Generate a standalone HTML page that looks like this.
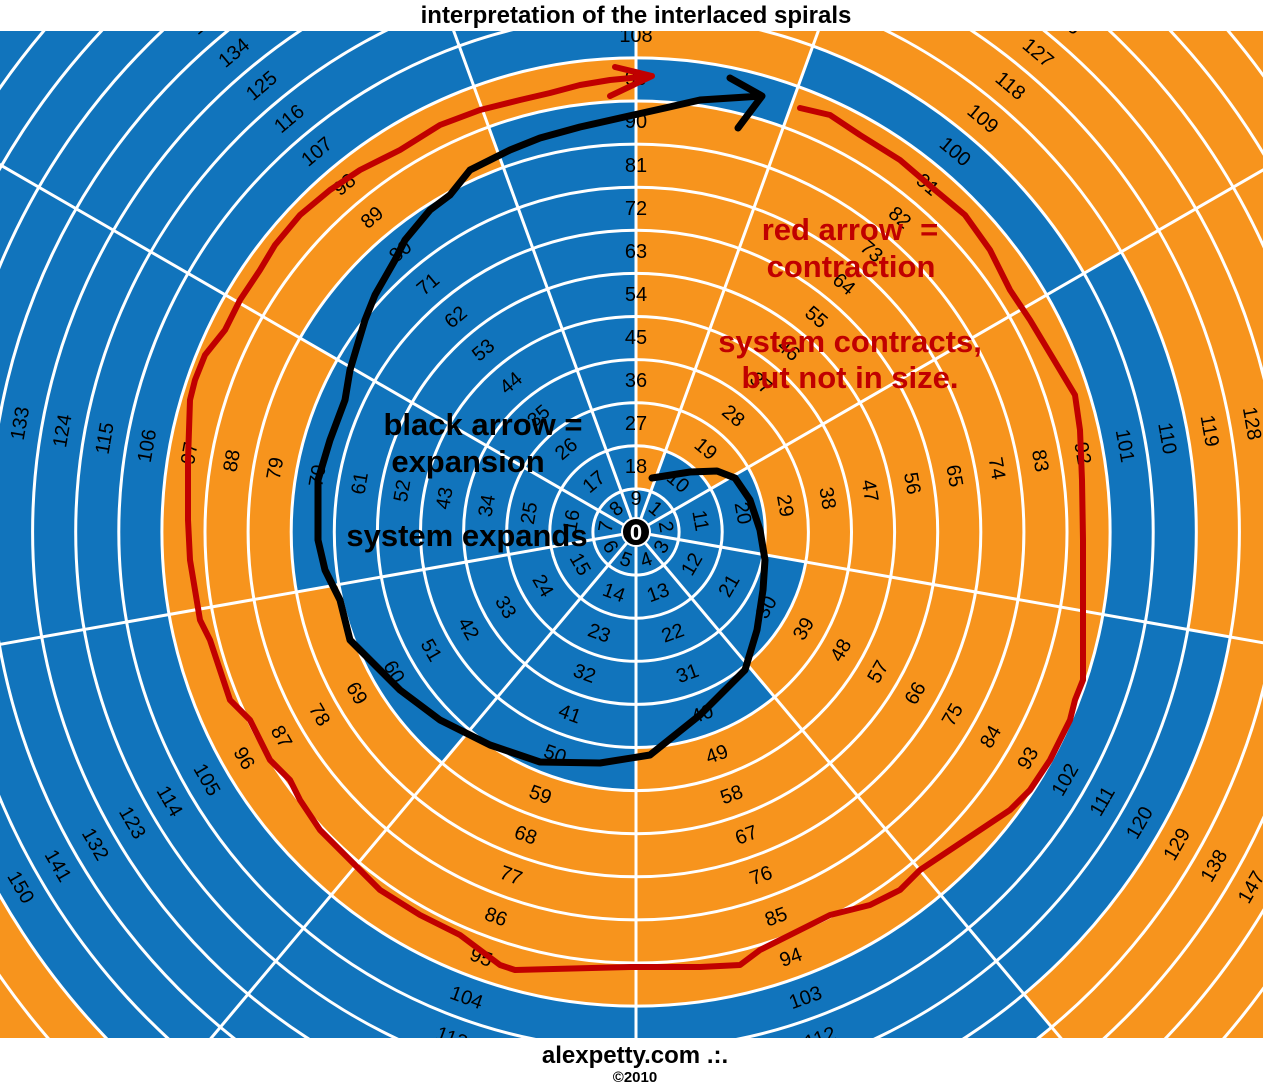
<!DOCTYPE html>
<html><head><meta charset="utf-8"><style>
html,body{margin:0;padding:0;background:#fff;width:1263px;height:1086px;overflow:hidden;}
svg{display:block;}
.n{font-family:"Liberation Sans",sans-serif;font-size:20px;fill:#000;text-anchor:middle;dominant-baseline:central;}
.ann{font-family:"Liberation Sans",sans-serif;font-weight:bold;font-size:31px;text-anchor:middle;}
</style></head><body>
<svg width="1263" height="1086" viewBox="0 0 1263 1086" xmlns="http://www.w3.org/2000/svg" overflow="hidden">
<defs><clipPath id="c"><rect x="0" y="31" width="1263" height="1007"/></clipPath></defs>
<text x="636" y="23" style="font-family:'Liberation Sans',sans-serif;font-weight:bold;font-size:24px;text-anchor:middle">interpretation of the interlaced spirals</text>
<g clip-path="url(#c)">
<rect x="0" y="31" width="1263" height="1007" fill="#1174BC"/>
<g fill="none" stroke="#F7941D" stroke-width="43.4" transform="rotate(-90 636 532)">
<circle cx="636" cy="532" r="64.65" pathLength="360" stroke-dasharray="20 400"/>
<circle cx="636" cy="532" r="107.75" pathLength="360" stroke-dasharray="60 400"/>
<circle cx="636" cy="532" r="150.85" pathLength="360" stroke-dasharray="100 400"/>
<circle cx="636" cy="532" r="193.95" pathLength="360" stroke-dasharray="140 400"/>
<circle cx="636" cy="532" r="237.05" pathLength="360" stroke-dasharray="180 400"/>
<circle cx="636" cy="532" r="280.15" pathLength="360" stroke-dasharray="220 400"/>
<circle cx="636" cy="532" r="323.25" pathLength="360" stroke-dasharray="260 400"/>
<circle cx="636" cy="532" r="366.35" pathLength="360" stroke-dasharray="300 400"/>
<circle cx="636" cy="532" r="409.45" pathLength="360" stroke-dasharray="340 400"/>
<circle cx="636" cy="532" r="452.55" pathLength="360" stroke-dasharray="0 20 340 400"/>
<circle cx="636" cy="532" r="495.65" pathLength="360" stroke-dasharray="20 400"/>
<circle cx="636" cy="532" r="538.75" pathLength="360" stroke-dasharray="60 400"/>
<circle cx="636" cy="532" r="581.85" pathLength="360" stroke-dasharray="100 400"/>
<circle cx="636" cy="532" r="624.95" pathLength="360" stroke-dasharray="140 400"/>
<circle cx="636" cy="532" r="668.05" pathLength="360" stroke-dasharray="180 400"/>
<circle cx="636" cy="532" r="711.15" pathLength="360" stroke-dasharray="220 400"/>
<circle cx="636" cy="532" r="754.25" pathLength="360" stroke-dasharray="260 400"/>
<circle cx="636" cy="532" r="797.35" pathLength="360" stroke-dasharray="300 400"/>
<circle cx="636" cy="532" r="840.45" pathLength="360" stroke-dasharray="340 400"/>
</g>
<g fill="none" stroke="#fff" stroke-width="3">
<circle cx="636" cy="532" r="43.1"/><circle cx="636" cy="532" r="86.2"/><circle cx="636" cy="532" r="129.3"/>
<circle cx="636" cy="532" r="172.4"/><circle cx="636" cy="532" r="215.5"/><circle cx="636" cy="532" r="258.6"/>
<circle cx="636" cy="532" r="301.7"/><circle cx="636" cy="532" r="344.8"/><circle cx="636" cy="532" r="387.9"/>
<circle cx="636" cy="532" r="431"/><circle cx="636" cy="532" r="474.1"/><circle cx="636" cy="532" r="517.2"/>
<circle cx="636" cy="532" r="560.3"/><circle cx="636" cy="532" r="603.4"/><circle cx="636" cy="532" r="646.5"/>
<circle cx="636" cy="532" r="689.6"/><circle cx="636" cy="532" r="732.7"/><circle cx="636" cy="532" r="775.8"/>
<circle cx="636" cy="532" r="818.9"/>
<path d="M636 532L636 -468M636 532L978 -408M636 532L1502 32M636 532L1621 706M636 532L1279 1298M636 532L636 1532M636 532L-7 1298M636 532L-349 706M636 532L-230 32M636 532L294 -408"/>
</g>
<g class="n">
<g transform="rotate(40 636 532)"><text x="636" y="502">1</text><text x="636" y="467">10</text><text x="636" y="424">19</text><text x="636" y="381">28</text><text x="636" y="338">37</text><text x="636" y="295">46</text><text x="636" y="252">55</text><text x="636" y="209">64</text><text x="636" y="166">73</text><text x="636" y="122">82</text><text x="636" y="79">91</text><text x="636" y="36">100</text><text x="636" y="-7">109</text><text x="636" y="-50">118</text><text x="636" y="-93">127</text><text x="636" y="-136">136</text><text x="636" y="-179">145</text></g>
<g transform="rotate(80 636 532)"><text x="636" y="502">2</text><text x="636" y="467">11</text><text x="636" y="424">20</text><text x="636" y="381">29</text><text x="636" y="338">38</text><text x="636" y="295">47</text><text x="636" y="252">56</text><text x="636" y="209">65</text><text x="636" y="166">74</text><text x="636" y="122">83</text><text x="636" y="79">92</text><text x="636" y="36">101</text><text x="636" y="-7">110</text><text x="636" y="-50">119</text><text x="636" y="-93">128</text><text x="636" y="-136">137</text><text x="636" y="-179">146</text></g>
<g transform="rotate(-60 636 532)"><text x="636" y="562">3</text><text x="636" y="597">12</text><text x="636" y="640">21</text><text x="636" y="683">30</text><text x="636" y="726">39</text><text x="636" y="769">48</text><text x="636" y="812">57</text><text x="636" y="855">66</text><text x="636" y="898">75</text><text x="636" y="942">84</text><text x="636" y="985">93</text><text x="636" y="1028">102</text><text x="636" y="1071">111</text><text x="636" y="1114">120</text><text x="636" y="1157">129</text><text x="636" y="1200">138</text><text x="636" y="1243">147</text></g>
<g transform="rotate(-20 636 532)"><text x="636" y="562">4</text><text x="636" y="597">13</text><text x="636" y="640">22</text><text x="636" y="683">31</text><text x="636" y="726">40</text><text x="636" y="769">49</text><text x="636" y="812">58</text><text x="636" y="855">67</text><text x="636" y="898">76</text><text x="636" y="942">85</text><text x="636" y="985">94</text><text x="636" y="1028">103</text><text x="636" y="1071">112</text></g>
<g transform="rotate(20 636 532)"><text x="636" y="562">5</text><text x="636" y="597">14</text><text x="636" y="640">23</text><text x="636" y="683">32</text><text x="636" y="726">41</text><text x="636" y="769">50</text><text x="636" y="812">59</text><text x="636" y="855">68</text><text x="636" y="898">77</text><text x="636" y="942">86</text><text x="636" y="985">95</text><text x="636" y="1028">104</text><text x="636" y="1071">113</text></g>
<g transform="rotate(60 636 532)"><text x="636" y="562">6</text><text x="636" y="597">15</text><text x="636" y="640">24</text><text x="636" y="683">33</text><text x="636" y="726">42</text><text x="636" y="769">51</text><text x="636" y="812">60</text><text x="636" y="855">69</text><text x="636" y="898">78</text><text x="636" y="942">87</text><text x="636" y="985">96</text><text x="636" y="1028">105</text><text x="636" y="1071">114</text><text x="636" y="1114">123</text><text x="636" y="1157">132</text><text x="636" y="1200">141</text><text x="636" y="1243">150</text></g>
<g transform="rotate(-80 636 532)"><text x="636" y="502">7</text><text x="636" y="467">16</text><text x="636" y="424">25</text><text x="636" y="381">34</text><text x="636" y="338">43</text><text x="636" y="295">52</text><text x="636" y="252">61</text><text x="636" y="209">70</text><text x="636" y="166">79</text><text x="636" y="122">88</text><text x="636" y="79">97</text><text x="636" y="36">106</text><text x="636" y="-7">115</text><text x="636" y="-50">124</text><text x="636" y="-93">133</text><text x="636" y="-136">142</text></g>
<g transform="rotate(-40 636 532)"><text x="636" y="502">8</text><text x="636" y="467">17</text><text x="636" y="424">26</text><text x="636" y="381">35</text><text x="636" y="338">44</text><text x="636" y="295">53</text><text x="636" y="252">62</text><text x="636" y="209">71</text><text x="636" y="166">80</text><text x="636" y="122">89</text><text x="636" y="79">98</text><text x="636" y="36">107</text><text x="636" y="-7">116</text><text x="636" y="-50">125</text><text x="636" y="-93">134</text><text x="636" y="-136">143</text></g>
<g><text x="636" y="499">9</text><text x="636" y="467">18</text><text x="636" y="424">27</text><text x="636" y="381">36</text><text x="636" y="338">45</text><text x="636" y="295">54</text><text x="636" y="252">63</text><text x="636" y="209">72</text><text x="636" y="166">81</text><text x="636" y="122">90</text><text x="636" y="79">99</text><text x="636" y="36">108</text></g>
</g>
<circle cx="636" cy="532" r="14" fill="#000" stroke="#fff" stroke-width="2"/>
<text x="636" y="540" style="font-family:'Liberation Sans',sans-serif;font-weight:bold;font-size:22px;fill:#fff;text-anchor:middle">0</text>
<path fill="none" stroke="#000" stroke-width="7" stroke-linejoin="round" stroke-linecap="round" d="M652 478L690 472L717 471L735 478L750 500L760 530L765 560L763 590L757 630L745 670L720 695L700 715L675 735L650 755L600 763L540 762L490 745L440 720L400 690L370 660L350 640L340 600L325 570L318 540L318 480L330 440L345 400L350 370L365 320L375 295L395 260L405 240L430 210L450 195L470 170L490 160L510 150L540 138L580 127L620 118L665 108L700 100L762 96M730 78L762 96L738 128"/>
<path fill="none" stroke="#C00000" stroke-width="6" stroke-linejoin="round" stroke-linecap="round" d="M800 108L830 115L860 135L900 160L935 190L965 215L990 250L1010 290L1030 320L1045 345L1060 370L1075 395L1080 430L1082 480L1083 540L1083 600L1083 680L1075 700L1070 720L1050 760L1030 790L1010 810L980 830L950 850L920 870L900 890L870 905L830 915L790 935L760 950L740 965L700 967L630 967L515 970L500 965L480 950L460 935L420 915L380 890L350 860L320 830L300 800L290 780L270 760L250 720L230 700L220 670L210 640L200 620L195 590L190 560L188 520L188 460L190 400L195 380L205 355L225 330L240 300L260 270L275 245L300 215L330 190L360 170L400 150L440 125L480 110L520 100L550 93L580 85L610 80L652 76M615 67L652 76L610 96"/>
<g class="ann" fill="#000"><text x="483" y="435">black arrow =</text><text x="468" y="472">expansion</text><text x="467" y="546">system expands</text></g>
<g class="ann" fill="#C00000"><text x="850" y="240">red arrow&#160;&#160;=</text><text x="851" y="277">contraction</text><text x="850" y="352">system contracts,</text><text x="850" y="388">but not in size.</text></g>
</g>
<text x="635" y="1063" style="font-family:'Liberation Sans',sans-serif;font-weight:bold;font-size:24px;text-anchor:middle">alexpetty.com .:.</text>
<text x="635" y="1082" style="font-family:'Liberation Sans',sans-serif;font-weight:bold;font-size:15px;text-anchor:middle">©2010</text>
</svg>
</body></html>
